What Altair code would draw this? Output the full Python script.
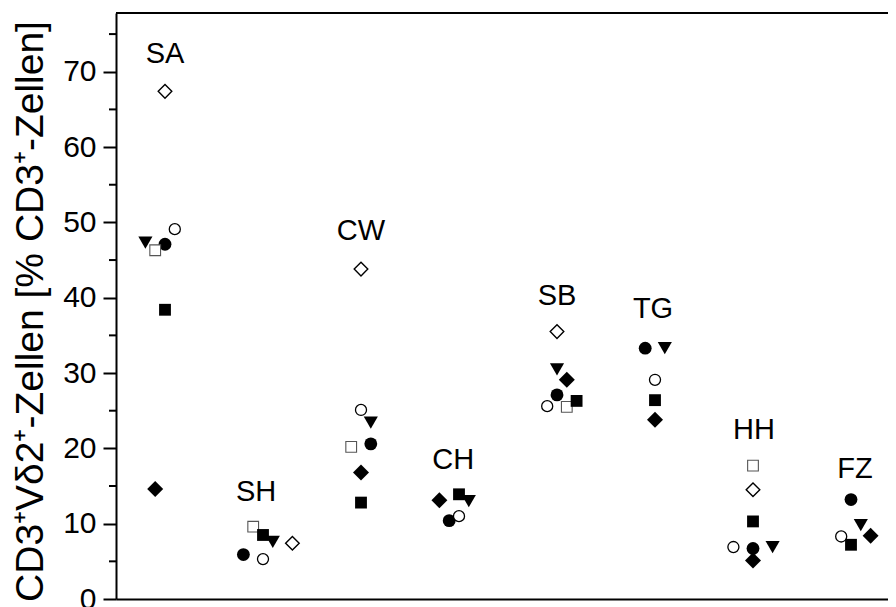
import altair as alt
import pandas as pd

# ---------------- data ----------------
groups = ["SA", "SH", "CW", "CH", "SB", "TG", "HH", "FZ"]
label_y = [72.3, 14.2, 48.9, 18.5, 40.2, 38.5, 22.4, 17.3]
label_slot = [0, -0.7, 0, -0.6, 0, -0.2, 0.1, 0.4]

# values per series, in group order (None = not measured)
v_filled_circle = [47.1, 5.9, 20.6, 10.4, 27.1, 33.3, 6.7, 13.2]
v_open_circle = [49.1, 5.3, 25.1, 11.0, 25.6, 29.1, 6.9, 8.3]
v_open_square = [46.3, 9.6, 20.2, None, 25.5, None, 17.7, None]
v_filled_square = [38.4, 8.5, 12.8, 13.9, 26.3, 26.4, 10.3, 7.2]
v_triangle = [47.3, 7.6, 23.4, 13.0, 30.5, 33.3, 6.9, 9.8]
v_open_diamond = [67.4, 7.4, 43.8, None, 35.5, None, 14.5, None]
v_filled_diamond = [14.6, None, 16.8, 13.1, 29.1, 23.8, 5.1, 8.4]

# horizontal jitter slot of each point inside its group
s_filled_circle = [0, -2, 1, -1, 0, -1, 0, 0]
s_open_circle = [1, 0, 0, 0, -1, 0, -2, -1]
s_open_square = [-1, -1, -1, 0, 1, 0, 0, 0]
s_filled_square = [0, 0, 0, 0, 2, 0, 0, 0]
s_triangle = [-2, 1, 1, 1, 0, 1, 2, 1]
s_open_diamond = [0, 3, 0, 0, 0, 0, 0, 0]
s_filled_diamond = [-1, 0, 0, -2, 1, 0, 0, 2]

series_data = {
    "Kreis": (v_filled_circle, s_filled_circle),
    "Offener Kreis": (v_open_circle, s_open_circle),
    "Offenes Quadrat": (v_open_square, s_open_square),
    "Quadrat": (v_filled_square, s_filled_square),
    "Dreieck": (v_triangle, s_triangle),
    "Offene Raute": (v_open_diamond, s_open_diamond),
    "Raute": (v_filled_diamond, s_filled_diamond),
}

minor_ticks = [5, 15, 25, 35, 45, 55, 65, 75]

rows = []
for name, (vals, slots) in series_data.items():
    for gi, (g, v, s) in enumerate(zip(groups, vals, slots)):
        if v is not None:
            rows.append({"series": name, "group": g, "gi": gi, "slot": s, "value": v})
df = pd.DataFrame(rows)

df_labels = pd.DataFrame({"group": groups, "gi": list(range(len(groups))),
                          "slot": label_slot, "ly": label_y})
df_minor = pd.DataFrame({"v": minor_ticks})

# ---------------- styles ----------------
styles = {
    "Kreis": dict(shape="circle", size=165, filled=True, color="black"),
    "Offener Kreis": dict(shape="circle", size=122, filled=False, fill="white",
                          stroke="black", strokeWidth=1.3),
    "Offenes Quadrat": dict(shape="square", size=115, filled=False, fill="white",
                            stroke="#555555", strokeWidth=1.1),
    "Quadrat": dict(shape="square", size=140, filled=True, color="black"),
    "Dreieck": dict(shape="triangle-down", size=200, filled=True, color="black"),
    "Offene Raute": dict(shape="diamond", size=185, filled=False, fill="white",
                         stroke="black", strokeWidth=1.4),
    "Raute": dict(shape="diamond", size=255, filled=True, color="black"),
}

FONT = "Liberation Sans"
W, H = 772, 586

xscale = alt.Scale(domain=[-0.5, -0.5 + W / 98.0], nice=False, zero=False)
yscale = alt.Scale(domain=[0, 77.8], nice=False, zero=False)

base = alt.Chart(df).transform_calculate(pos="datum.gi + datum.slot * 0.1")

y_axis = alt.Axis(
    title="CD3⁺Vδ2⁺-Zellen [% CD3⁺-Zellen]",
    values=[0, 10, 20, 30, 40, 50, 60, 70],
    grid=False, domainColor="black", domainWidth=2,
    tickColor="black", tickWidth=2, tickSize=13,
    labelFont=FONT, labelFontSize=30, labelColor="black",
    labelPadding=7, labelFlush=False,
    titleFont=FONT, titleFontSize=39, titleFontWeight="normal",
    titleColor="black", titlePadding=12, titleY=298,
)
x_axis = alt.Axis(title=None, labels=False, ticks=False, grid=False,
                  domainColor="black", domainWidth=2)

point_layers = []
for i, name in enumerate(series_data):
    st = styles[name]
    mk = base.transform_filter(alt.datum.series == name).mark_point(opacity=1, **st)
    if i == 0:
        enc = dict(x=alt.X("pos:Q", scale=xscale, axis=x_axis),
                   y=alt.Y("value:Q", scale=yscale, axis=y_axis))
    else:
        enc = dict(x=alt.X("pos:Q", scale=xscale),
                   y=alt.Y("value:Q", scale=yscale))
    point_layers.append(mk.encode(**enc))

labels = alt.Chart(df_labels).transform_calculate(
    pos="datum.gi + datum.slot * 0.1"
).mark_text(
    font=FONT, fontSize=29, color="black", align="center", baseline="middle"
).encode(
    x=alt.X("pos:Q", scale=xscale),
    y=alt.Y("ly:Q", scale=yscale),
    text="group:N",
)

minor = alt.Chart(df_minor).mark_rule(color="black", strokeWidth=2).encode(
    y=alt.Y("v:Q", scale=yscale),
    x=alt.value(-7),
    x2=alt.value(0),
)

top_border = alt.Chart(df_minor).mark_rule(color="black", strokeWidth=2).encode(
    y=alt.value(0),
    x=alt.value(0),
    x2=alt.value(W + 20),
)

chart = alt.layer(minor, top_border, *point_layers, labels).properties(
    width=W,
    height=H,
    autosize=alt.AutoSizeParams(type="none"),
    padding={"left": 108, "top": 5, "right": 0, "bottom": 8},
).configure_view(stroke=None).configure(background="white")

chart.save("out.html", embed_options={"renderer": "svg", "actions": False})
